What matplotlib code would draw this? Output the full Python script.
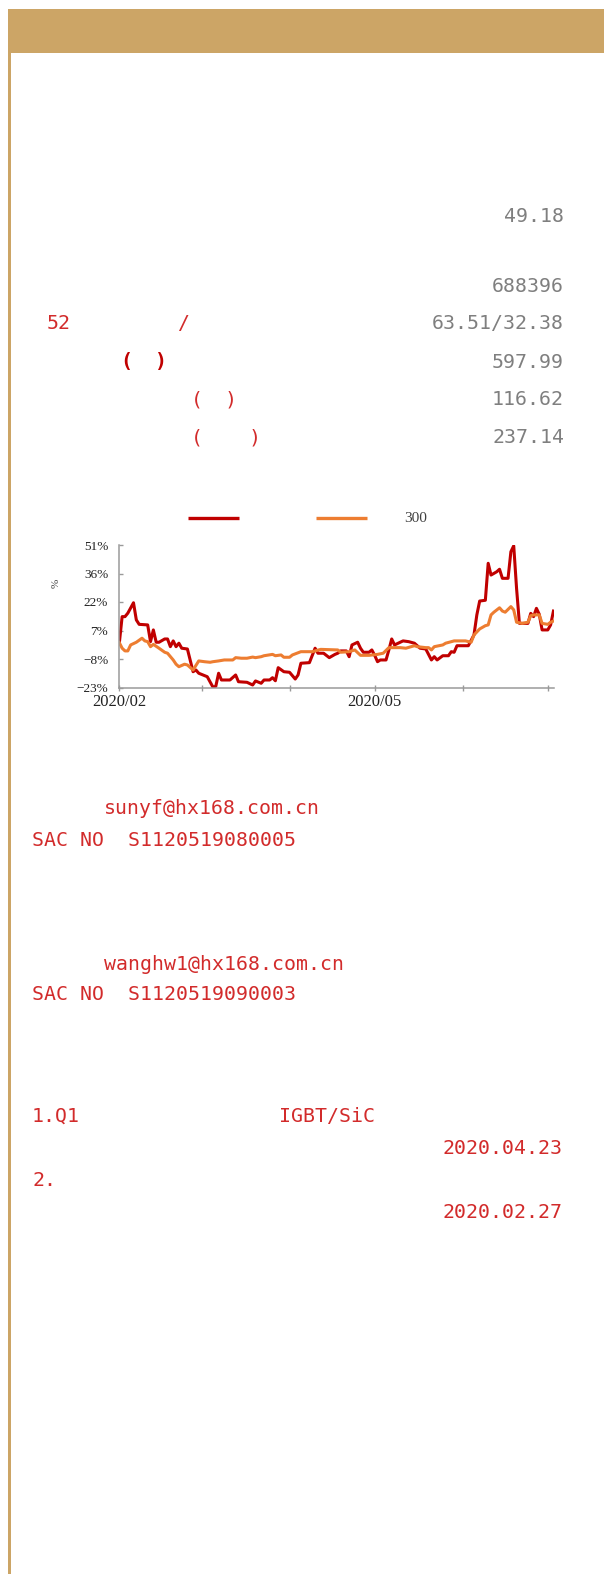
"""Stock report sidebar: gold header, key figures, relative-return chart, contacts."""

import matplotlib

matplotlib.use("Agg")
import matplotlib.dates as mdates
import matplotlib.pyplot as plt
import numpy as np
from matplotlib.patches import Rectangle
from matplotlib.ticker import FixedLocator, FuncFormatter

W, H = 604, 1574
DPI = 100

GOLD = "#CCA566"
RED_TXT = "#D22B2B"
DARK_RED = "#C00000"
GRAY_TXT = "#7F7F7F"
RED_LINE = "#C00000"
ORANGE_LINE = "#ED7D31"
AXIS_GRAY = "#9A9A9A"
MONO = "DejaVu Sans Mono"
SERIF = "Liberation Serif"
MAIN_PT = 14.3

# --- chart data (calendar days after start_date, cumulative return in %) ---
start_date = "2020-02-03"
stock_days = [0, 1, 2, 3, 5, 6, 7, 10, 11, 12,
              13, 14, 16, 17, 18, 19, 20, 21, 22, 24,
              26, 27, 28, 31, 33, 34, 35, 36, 39, 41,
              42, 45, 47, 48, 50, 51, 53, 54, 55, 56,
              58, 60, 62, 63, 64, 67, 69, 70, 72, 74,
              76, 77, 78, 80, 81, 82, 84, 85, 86, 88,
              89, 90, 91, 92, 94, 95, 96, 97, 99, 100,
              102, 104, 106, 108, 110, 111, 112, 114, 116, 117,
              118, 119, 123, 125, 126, 127, 129, 130, 131, 133,
              134, 135, 137, 138, 139, 140, 141, 144, 145, 146,
              147, 148, 149, 151, 152, 153]
stock_pct = [0.2, 14.0, 14.0, 15.8, 21.2, 12.3, 10.0, 9.7, 1.0, 7.1,
             0.7, 0.7, 2.4, 2.4, -1.6, 1.4, -1.6, 0.2, -2.4, -2.8,
             -14.6, -13.7, -15.4, -17.2, -22.6, -22.2, -15.4, -18.9, -18.9, -16.3,
             -19.8, -20.1, -21.5, -19.4, -20.6, -18.9, -18.9, -17.7, -19.3, -12.5,
             -14.6, -14.9, -18.4, -16.3, -10.2, -9.9, -2.4, -5.0, -5.0, -7.3,
             -5.6, -5.0, -3.8, -3.8, -6.8, -0.7, 0.7, -2.4, -4.5, -4.5,
             -3.3, -6.1, -9.4, -8.5, -8.5, -3.3, 2.4, -0.7, 0.7, 1.4,
             1.0, 0.2, -2.4, -2.8, -8.5, -6.8, -8.5, -6.3, -6.3, -4.2,
             -4.5, -1.1, -1.1, 4.5, 14.9, 22.1, 22.5, 41.7, 35.6, 37.3,
             38.6, 33.9, 33.9, 47.7, 50.8, 28.7, 10.5, 10.5, 15.7, 14.0,
             18.3, 15.2, 7.1, 7.1, 9.7, 16.9]
index_days = [0, 1, 2, 3, 4, 6, 8, 9, 10, 11,
              12, 14, 16, 17, 19, 20, 21, 23, 24, 26,
              28, 30, 32, 33, 35, 37, 40, 41, 43, 45,
              47, 48, 50, 51, 54, 55, 57, 58, 60, 61,
              64, 68, 71, 77, 78, 81, 83, 85, 88, 91,
              93, 95, 99, 101, 104, 105, 108, 109, 110, 111,
              114, 115, 118, 122, 124, 125, 127, 129, 130, 131,
              132, 134, 135, 136, 138, 139, 140, 142, 144, 145,
              146, 148, 149, 151, 152, 153]
index_pct = [0.5, -2.4, -3.8, -3.8, -0.7, 0.7, 2.8, 1.4, 1.0, -1.6,
             -0.4, -2.4, -4.5, -5.0, -8.5, -10.7, -12.0, -10.7, -11.1, -13.7,
             -9.0, -9.4, -9.7, -9.4, -9.0, -8.5, -8.5, -7.3, -7.6, -7.6,
             -7.0, -7.3, -6.8, -6.3, -5.6, -6.3, -5.9, -7.1, -7.1, -5.9,
             -4.2, -4.2, -3.0, -3.3, -4.5, -4.2, -3.3, -6.1, -6.1, -5.6,
             -5.0, -2.1, -2.1, -2.4, -1.1, -1.6, -2.1, -2.1, -3.3, -1.6,
             -0.7, 0.2, 1.4, 1.4, 0.7, 4.5, 7.6, 9.3, 9.7, 14.9,
             16.3, 18.6, 16.9, 16.3, 19.2, 17.5, 11.1, 10.5, 11.1, 14.5,
             14.9, 14.9, 10.5, 10.0, 11.1, 11.7]
month_ticks = ["2020-02-03", "2020-03-03", "2020-04-03",
               "2020-05-03", "2020-06-03", "2020-07-03"]
month_labels = ["2020/02", "", "", "2020/05", "", ""]
y_ticks = [-22.8, -8.0, 6.8, 21.6, 36.4, 51.2]
legend_labels = ["", "300"]

# --- text block data ---
key_values = ["49.18", "688396", "63.51/32.38", "597.99", "116.62", "237.14"]
contact_emails = ["sunyf@hx168.com.cn", "wanghw1@hx168.com.cn"]
contact_sac = ["SAC NO  S1120519080005", "SAC NO  S1120519090003"]
related_titles = ["1.Q1", "2."]
related_dates = ["2020.04.23", "2020.02.27"]


def put(ax, x, y, s, color=RED_TXT, ha="left", size=MAIN_PT, **kw):
    ax.text(x, y, s, color=color, ha=ha, va="center", fontsize=size,
            family=MONO, **kw)


fig = plt.figure(figsize=(W / DPI, H / DPI), dpi=DPI)

# overlay in pixel coordinates (origin top-left)
page = fig.add_axes([0, 0, 1, 1])
page.set_xlim(0, W)
page.set_ylim(H, 0)
page.axis("off")

page.add_patch(Rectangle((8, 9), W - 8, 43.7, color=GOLD, lw=0))
page.add_patch(Rectangle((8, 52.7), 3, H - 52.7, color=GOLD, lw=0))

# key figures, right aligned grey numbers
value_y = [217, 287, 323.5, 362, 399.5, 437.5]
for s, y in zip(key_values, value_y):
    put(page, 564, y, s, color=GRAY_TXT, ha="right")

# fragments of the red labels that survive
put(page, 46.5, 323.5, "52")
put(page, 183.5, 323.5, "/", ha="center")
put(page, 126, 361, "(", color=DARK_RED, ha="center", weight="bold")
put(page, 160, 361, ")", color=DARK_RED, ha="center", weight="bold")
for y, rx in [(399.5, 230.5), (437.5, 254.5)]:
    put(page, 197, y, "(", ha="center")
    put(page, rx, y, ")", ha="center")

# legend drawn in page pixels
page.plot([187.7, 239], [518, 518], color=RED_LINE, lw=2.4,
          solid_capstyle="butt")
page.plot([316, 367], [518, 518], color=ORANGE_LINE, lw=2.4,
          solid_capstyle="butt")
page.text(404, 518, legend_labels[1], color="#404040", fontsize=11,
          family=SERIF, va="center", ha="left")
page.text(56, 583, "%", rotation=90, color="#404040", fontsize=8,
          family=SERIF, va="center", ha="center")

# contacts
for i, y0 in enumerate([809, 964]):
    put(page, 104, y0, contact_emails[i])
    put(page, 32, y0 + 31, contact_sac[i])

# related reports
put(page, 32, 1116.5, related_titles[0])
put(page, 279, 1116.5, "IGBT/SiC")
put(page, 562, 1149, related_dates[0], ha="right")
put(page, 32, 1181, related_titles[1])
put(page, 562, 1212, related_dates[1], ha="right")

# --- relative return chart ---
left, right, top, bottom = 119.3, 554.3, 545.0, 687.5
ax = fig.add_axes([left / W, 1 - bottom / H, (right - left) / W, (bottom - top) / H])

base = np.datetime64(start_date)
stock_x = base + np.array(stock_days, dtype="timedelta64[D]")
index_x = base + np.array(index_days, dtype="timedelta64[D]")
# index series sits on top of the stock line, as in the source
ax.plot(stock_x, stock_pct, color=RED_LINE, lw=2.2, solid_joinstyle="round")
ax.plot(index_x, index_pct, color=ORANGE_LINE, lw=2.2, solid_joinstyle="round")

x0 = mdates.date2num(base)
ax.set_xlim(x0, x0 + 153.3)
ax.set_ylim(y_ticks[0], y_ticks[-1])

ax.xaxis.set_major_locator(FixedLocator(mdates.date2num(np.array(month_ticks, dtype="datetime64[D]"))))
ax.set_xticklabels(month_labels)
ax.yaxis.set_major_locator(FixedLocator(y_ticks))
ax.yaxis.set_major_formatter(FuncFormatter(lambda v, _: f"{v:.0f}%".replace("-", "\u2212")))

for side in ["top", "right"]:
    ax.spines[side].set_visible(False)
for side in ["left", "bottom"]:
    ax.spines[side].set_color(AXIS_GRAY)
    ax.spines[side].set_linewidth(1.1)
ax.tick_params(axis="y", direction="in", length=3, width=1, color=AXIS_GRAY,
               labelsize=9.5, pad=8, labelcolor="#222222")
ax.tick_params(axis="x", direction="inout", length=5, width=1, color=AXIS_GRAY,
               labelsize=12, pad=2, labelcolor="#222222")
for lab in ax.get_xticklabels() + ax.get_yticklabels():
    lab.set_family(SERIF)
ax.patch.set_alpha(0)

fig.savefig("out.png", dpi=DPI)
